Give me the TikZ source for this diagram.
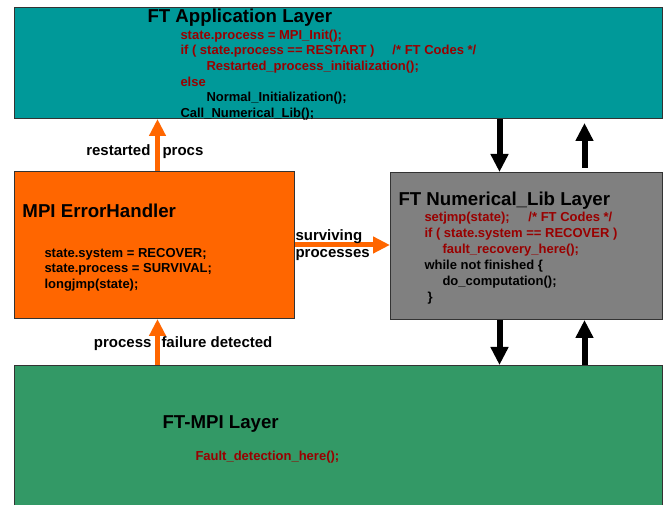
\documentclass[tikz,border=0pt]{standalone}
\usepackage{fontspec}
\setmainfont{Liberation Sans}
\usetikzlibrary{arrows.meta,calc}

\definecolor{appteal}{RGB}{0,153,153}
\definecolor{handlerorange}{RGB}{255,102,0}
\definecolor{libgray}{RGB}{128,128,128}
\definecolor{mpigreen}{RGB}{51,153,102}
\definecolor{codered}{RGB}{153,0,0}
\definecolor{edgegray}{RGB}{51,51,51}

\tikzset{every picture/.style={line width=0.75pt}}
\tikzset{
  layer/.style={draw=edgegray, anchor=north west, inner sep=0pt},
  layertitle/.style={anchor=base west, inner sep=0pt, font=\bfseries\fontsize{14}{17}\selectfont},
  codeblock/.style={anchor=base west, inner sep=0pt, align=left, text=codered, font=\bfseries\fontsize{9.75}{11.8}\selectfont},
  flowlabel/.style={inner sep=0pt, align=left, font=\bfseries\fontsize{11.25}{12.5}\selectfont},
  orangeflow/.style={draw=handlerorange, line width=3.75pt, -{Triangle[width=12pt,length=12.75pt]}},
  blackflow/.style={draw=black, line width=4.5pt, -{Triangle[width=12.75pt,length=13.5pt]}},
}

\begin{document}
\begin{tikzpicture}[x=0.75pt,y=0.75pt,yscale=-1,xscale=1]
\useasboundingbox (0,0) rectangle (665,505);

%Shape: Rectangle [FT Application Layer]
\node[layer, fill=appteal, minimum width={648*0.75pt}, minimum height={111*0.75pt}] (app) at (14,7) {};
%Shape: Rectangle [MPI ErrorHandler]
\node[layer, fill=handlerorange, minimum width={280*0.75pt}, minimum height={147*0.75pt}] (handler) at (14,171) {};
%Shape: Rectangle [FT Numerical_Lib Layer]
\node[layer, fill=libgray, minimum width={272*0.75pt}, minimum height={147*0.75pt}] (numlib) at (390,172) {};
%Shape: Rectangle [FT-MPI Layer]
\node[layer, fill=mpigreen, minimum width={648*0.75pt}, minimum height={150*0.75pt}] (ftmpi) at (14,365) {};

\coordinate (handlerx) at ($(handler.north)+(3,0)$);
\coordinate (downx) at ($(numlib.north)+(-27,0)$);
\coordinate (upx) at ($(numlib.north)+(58,0)$);

%Straight Lines [orange arrows]
\draw[orangeflow] (handlerx) -- (handlerx |- app.south);
\draw[orangeflow] (handler.east) -- (handler.east -| numlib.west);
\draw[orangeflow] (handlerx |- ftmpi.north) -- (handlerx |- handler.south);
%Straight Lines [black arrows]
\draw[blackflow] (downx |- app.south) -- (downx);
\draw[blackflow, shorten <=3pt, shorten >=3pt] (upx) -- (upx |- app.south);
\draw[blackflow] (downx |- numlib.south) -- (downx |- ftmpi.north);
\draw[blackflow] (upx |- ftmpi.north) -- (upx |- numlib.south);

% Text Node
\node[layertitle] (apptitle) at (147,22.5) {FT Application Layer};
% Text Node (anchored at the last line)
\node[codeblock] (appcode) at (180,117.7) {%
  state.process = MPI\_Init();\\
  \makebox[159pt][l]{if ( state.process == RESTART )}/* FT Codes */\\
  \hspace*{19.5pt}Restarted\_process\_initialization();\\
  else\\
  \hspace*{19.5pt}{\color{black}Normal\_Initialization();}\\
  {\color{black}Call\_Numerical\_Lib();}};

% Text Node
\node[layertitle] (handlertitle) at (22,217.5) {MPI ErrorHandler};
% Text Node
\node[codeblock, text=black] (handlercode) at (44,288.7) {%
  state.system = RECOVER;\\
  state.process = SURVIVAL;\\
  longjmp(state);};

% Text Node
\node[layertitle] (numlibtitle) at (398,205.7) {FT Numerical\_Lib Layer};
% Text Node
\node[codeblock, font=\bfseries\fontsize{9.75}{12}\selectfont] (numlibcode) at (424,301.7) {%
  \makebox[78pt][l]{setjmp(state);}/* FT Codes */\\
  if ( state.system == RECOVER )\\
  \hspace*{13.5pt}fault\_recovery\_here();\\
  {\color{black}while not finished \{}\\
  \hspace*{13.5pt}{\color{black}do\_computation();}\\
  \hspace*{2.25pt}{\color{black}\}}};

% Text Node
\node[layertitle] (ftmpititle) at (162,428.3) {FT-MPI Layer};
% Text Node
\node[codeblock] (ftmpicode) at (195,461) {Fault\_detection\_here();};

% Text Node
\node[flowlabel, anchor=base east] (restartedlbl) at (151,155.5) {restarted};
% Text Node
\node[flowlabel, anchor=base west] (procslbl) at (162,155.5) {procs};
% Text Node
\node[flowlabel, anchor=base west] (survivinglbl) at (295,257.3) {surviving\\processes};
% Text Node
\node[flowlabel, anchor=base east] (processlbl) at (152,348) {process};
% Text Node
\node[flowlabel, anchor=base west] (failurelbl) at (161,348) {failure detected};
\end{tikzpicture}
\end{document}
